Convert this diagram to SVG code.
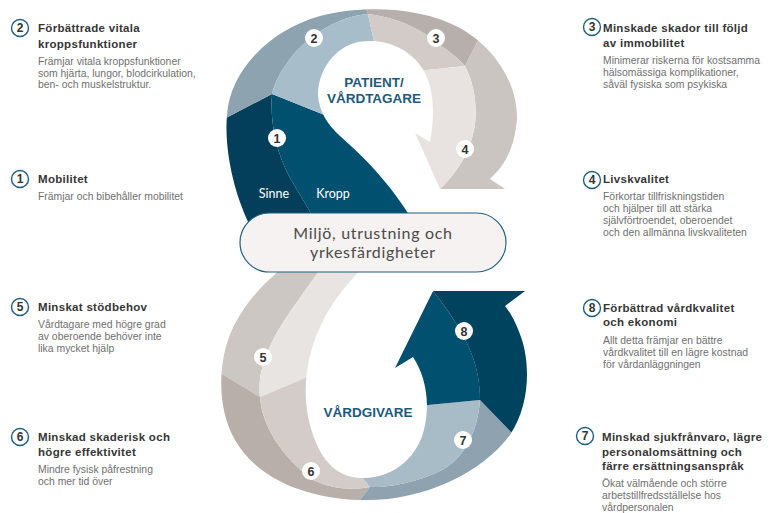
<svg xmlns="http://www.w3.org/2000/svg" width="769" height="513" viewBox="0 0 769 513">
<style>
.t{font-family:"Liberation Sans",Arial,sans-serif;font-weight:700;font-size:11.5px;letter-spacing:0.3px;fill:#363636}
.b{font-family:"Liberation Sans",Arial,sans-serif;font-size:10.4px;fill:#6f6f6f}
.nc{fill:#fff;stroke:#1d5f80;stroke-width:1.4}
.nn{font-family:"Liberation Sans",Arial,sans-serif;font-weight:700;font-size:12px;fill:#333;text-anchor:middle}
.wc{fill:#fff}
.wn{font-family:"Liberation Sans",Arial,sans-serif;font-weight:700;font-size:12.5px;fill:#333;text-anchor:middle}
.hd{font-family:"Liberation Sans",Arial,sans-serif;font-weight:700;font-size:13.5px;fill:#1b5a7c;text-anchor:middle}
.sk{font-family:Lato,"Liberation Sans",sans-serif;font-size:12.5px;fill:#fff;text-anchor:middle}
.pl{font-family:Lato,"Liberation Sans",sans-serif;font-size:16px;letter-spacing:0.7px;fill:#4a4a4a;text-anchor:middle}
</style>
<defs>
<clipPath id="topBand">
<path d="M252,230 C234,195 224,150 227,115 C230,70 270,30 320,16 C360,5 420,6 460,28 C492,46 517,80 517,118 C515,150 503,167 490,179 L505,189 L440,189 L415,133 L430,142 C435,115 435,85 420,65 C405,45 380,38 358,42 C335,47 318,70 318,95 C319,112 328,125 340,136 C365,158 395,188 418,230 Z"/>
</clipPath>
<clipPath id="botBand">
<path d="M300,255 C270,275 240,305 228,340 C218,370 218,410 235,440 C255,475 300,498 360,500 C420,502 480,475 510,435 C530,405 530,365 522,340 C517,325 512,315 505,306 L525,291 L433,291 L395,368 L413,357 C425,375 430,400 425,425 C420,455 395,478 363,478 C333,478 318,455 310,425 C302,395 305,360 320,327 C332,300 350,280 375,255 Z"/>
</clipPath>
</defs>
<rect width="769" height="513" fill="#fff"/>

<g id="loop-top" clip-path="url(#topBand)">
<path fill="#033f5a" d="M200,240 L200,131.6 L272,94 C270,120 275,150 290,178 C300,195 310,210 325,240 Z"/>
<path fill="#02506f" d="M272,94 L322,114 L345,124 L440,240 L325,240 C310,210 300,195 290,178 C275,150 270,120 272,94 Z"/>
<path fill="#8ea3b0" d="M200,131.6 L272,94 C278,70 300,40 333,24 C345,18 356,15 368,14 L362,0 L200,0 Z"/>
<path fill="#a8bdca" d="M272,94 C278,70 300,40 333,24 C345,18 356,15 368,14 L380,70 L330,118 L322,114 Z"/>
<path fill="#b7afab" d="M368,14 C395,17 420,28 437,43 C450,52 458,58 465,66 L495,7 L495,0 L362,0 Z"/>
<path fill="#d3cbc7" d="M368,14 C395,17 420,28 437,43 C450,52 458,58 465,66 L427,70 L400,72 L380,70 Z"/>
<path fill="#cbc5c2" d="M465,66 C475,85 478,110 474,130 C470,150 460,170 440,189 L440,200 L540,200 L540,0 L495,0 L495,7 Z"/>
<path fill="#e8e3e0" d="M465,66 C475,85 478,110 474,130 C470,150 460,170 440,189 L405,125 L410,72 L427,70 Z"/>
</g>

<g id="loop-bottom" clip-path="url(#botBand)">
<path fill="#cdc7c4" d="M200,250 L332,250 C315,280 285,315 272,342 C262,362 258,380 260,397 L200,361 Z"/>
<path fill="#e8e4e1" d="M332,250 C315,280 285,315 272,342 C262,362 258,380 260,397 L305,378 L330,368 L400,250 Z"/>
<path fill="#b8afab" d="M200,361 L260,397 C262,425 280,455 313,480 C330,488 350,491 370,487 L352,510 L352,513 L200,513 Z"/>
<path fill="#d4ccc8" d="M260,397 C262,425 280,455 313,480 C330,488 350,491 370,487 L352,465 L315,374 L305,378 Z"/>
<path fill="#8fa2af" d="M370,487 C395,488 430,478 447,467 C465,455 478,430 480,400 L512,433 L540,460 L540,513 L352,513 L352,510 Z"/>
<path fill="#a8bcc8" d="M370,487 C395,488 430,478 447,467 C465,455 478,430 480,400 L428,405 L415,406 L390,440 L352,465 Z"/>
<path fill="#00435e" d="M480,400 C480,370 472,340 433,291 L433,280 L540,280 L540,460 L512,433 Z"/>
<path fill="#02506f" d="M480,400 C480,370 472,340 433,291 L380,380 L415,406 L428,405 Z"/>
</g>

<g id="markers">
<circle class="wc" cx="277" cy="138" r="9"/><text class="wn" x="277" y="142.5">1</text>
<circle class="wc" cx="314" cy="38" r="9"/><text class="wn" x="314" y="42.5">2</text>
<circle class="wc" cx="436" cy="38" r="9"/><text class="wn" x="436" y="42.5">3</text>
<circle class="wc" cx="465" cy="149" r="9"/><text class="wn" x="465" y="153.5">4</text>
<circle class="wc" cx="263" cy="357" r="9"/><text class="wn" x="263" y="361.5">5</text>
<circle class="wc" cx="311" cy="471" r="9"/><text class="wn" x="311" y="475.5">6</text>
<circle class="wc" cx="463" cy="440" r="9"/><text class="wn" x="463" y="444.5">7</text>
<circle class="wc" cx="464" cy="331" r="9"/><text class="wn" x="464" y="335.5">8</text>
<text class="sk" x="274" y="198">Sinne</text>
<text class="sk" x="333" y="198">Kropp</text>
<text class="hd" x="374" y="87">PATIENT/</text>
<text class="hd" x="374" y="103">VÅRDTAGARE</text>
<text class="hd" x="368" y="417">VÅRDGIVARE</text>
</g>

<g id="pill">
<rect x="240" y="213" width="266" height="59" rx="29.5" fill="#f5f2f1" stroke="#1f5f80" stroke-width="1.2"/>
<text class="pl" x="373" y="238.5">Miljö, utrustning och</text>
<text class="pl" x="373" y="258">yrkesfärdigheter</text>
</g>

<g id="item-2">
<circle class="nc" cx="20" cy="28" r="8.5"/><text class="nn" x="20" y="32.3">2</text>
<text class="t" x="38" y="32">Förbättrade vitala</text>
<text class="t" x="38" y="47.5">kroppsfunktioner</text>
<text class="b" x="38" y="64.5">Främjar vitala kroppsfunktioner</text>
<text class="b" x="38" y="76.5">som hjärta, lungor, blodcirkulation,</text>
<text class="b" x="38" y="88">ben- och muskelstruktur.</text>
</g>
<g id="item-1">
<circle class="nc" cx="20" cy="179" r="8.5"/><text class="nn" x="20" y="183.3">1</text>
<text class="t" x="38" y="183">Mobilitet</text>
<text class="b" x="38" y="200">Främjar och bibehåller mobilitet</text>
</g>
<g id="item-5">
<circle class="nc" cx="20" cy="307" r="8.5"/><text class="nn" x="20" y="311.3">5</text>
<text class="t" x="38" y="311">Minskat stödbehov</text>
<text class="b" x="38" y="327.5">Vårdtagare med högre grad</text>
<text class="b" x="38" y="339.5">av oberoende behöver inte</text>
<text class="b" x="38" y="351.5">lika mycket hjälp</text>
</g>
<g id="item-6">
<circle class="nc" cx="20" cy="437" r="8.5"/><text class="nn" x="20" y="441.3">6</text>
<text class="t" x="38" y="441">Minskad skaderisk och</text>
<text class="t" x="38" y="455.5">högre effektivitet</text>
<text class="b" x="38" y="473">Mindre fysisk påfrestning</text>
<text class="b" x="38" y="485">och mer tid över</text>
</g>
<g id="item-3">
<circle class="nc" cx="592" cy="27" r="8.5"/><text class="nn" x="592" y="31.3">3</text>
<text class="t" x="603" y="32">Minskade skador till följd</text>
<text class="t" x="603" y="46.5">av immobilitet</text>
<text class="b" x="603" y="64">Minimerar riskerna för kostsamma</text>
<text class="b" x="603" y="76">hälsomässiga komplikationer,</text>
<text class="b" x="603" y="88">såväl fysiska som psykiska</text>
</g>
<g id="item-4">
<circle class="nc" cx="592" cy="180" r="8.5"/><text class="nn" x="592" y="184.3">4</text>
<text class="t" x="603" y="183">Livskvalitet</text>
<text class="b" x="603" y="199.5">Förkortar tillfriskningstiden</text>
<text class="b" x="603" y="211.5">och hjälper till att stärka</text>
<text class="b" x="603" y="223.5">självförtroendet, oberoendet</text>
<text class="b" x="603" y="235.5">och den allmänna livskvaliteten</text>
</g>
<g id="item-8">
<circle class="nc" cx="592" cy="308" r="8.5"/><text class="nn" x="592" y="312.3">8</text>
<text class="t" x="603" y="311.5">Förbättrad vårdkvalitet</text>
<text class="t" x="603" y="326">och ekonomi</text>
<text class="b" x="603" y="344">Allt detta främjar en bättre</text>
<text class="b" x="603" y="356">vårdkvalitet till en lägre kostnad</text>
<text class="b" x="603" y="368">för vårdanläggningen</text>
</g>
<g id="item-7">
<circle class="nc" cx="585" cy="436" r="8.5"/><text class="nn" x="585" y="440.3">7</text>
<text class="t" x="602" y="441">Minskad sjukfrånvaro, lägre</text>
<text class="t" x="602" y="455.5">personalomsättning och</text>
<text class="t" x="602" y="470">färre ersättningsanspråk</text>
<text class="b" x="602" y="487">Ökat välmående och större</text>
<text class="b" x="602" y="499">arbetstillfredsställelse hos</text>
<text class="b" x="602" y="511">vårdpersonalen</text>
</g>
</svg>
